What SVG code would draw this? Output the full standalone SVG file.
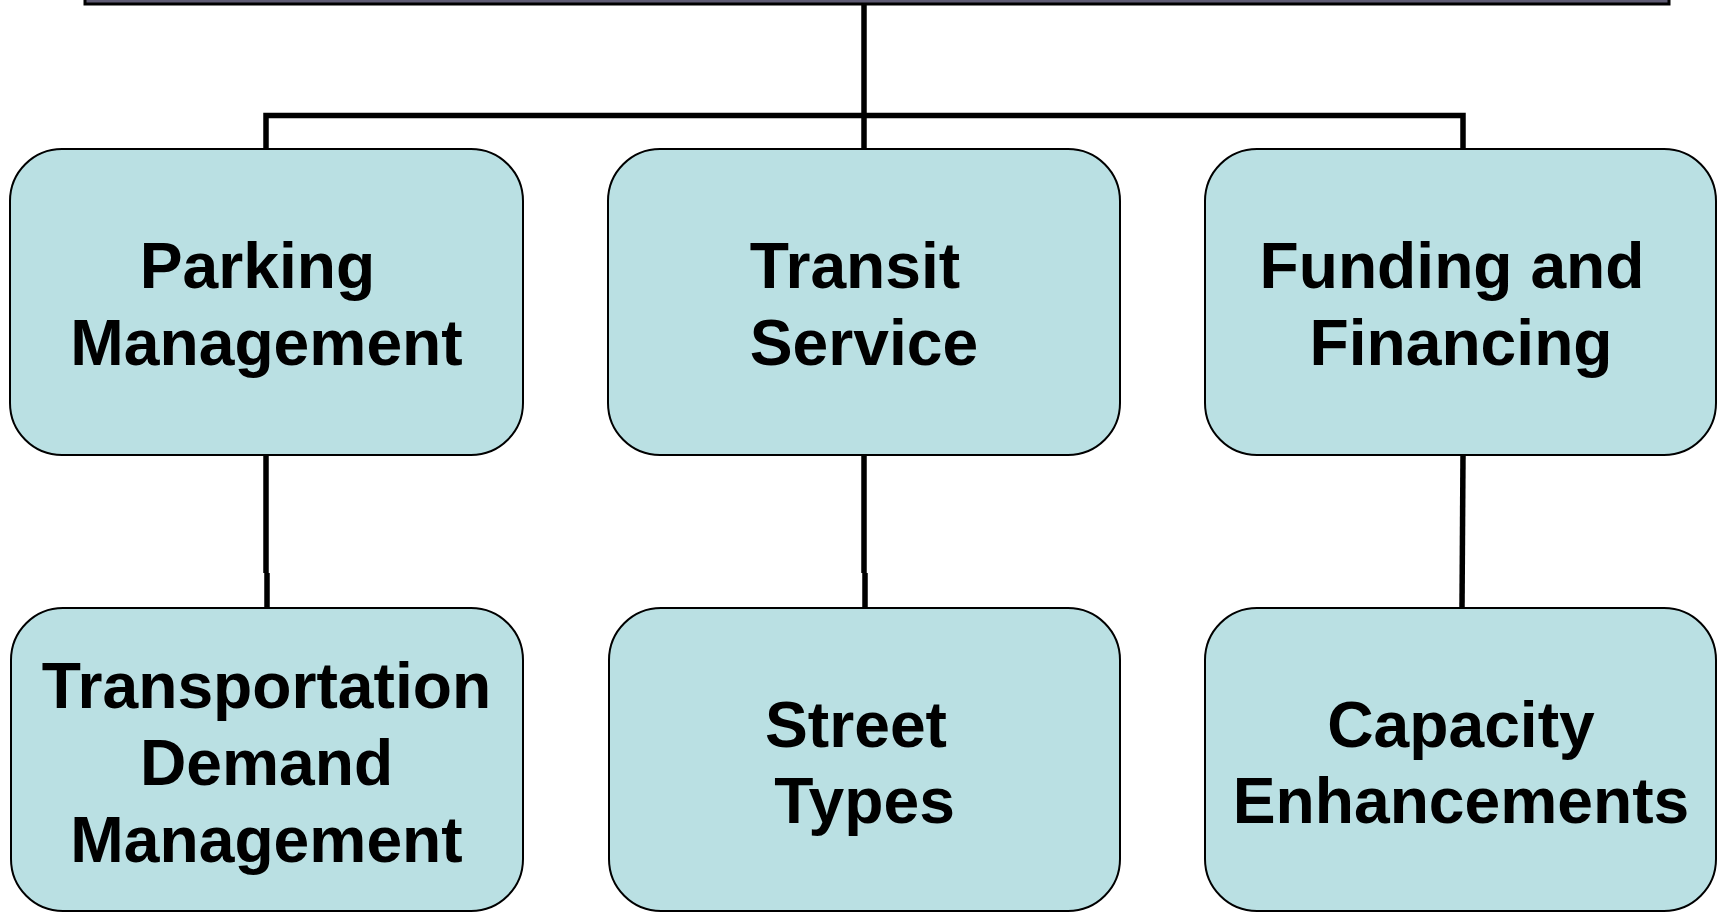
<svg xmlns="http://www.w3.org/2000/svg" width="1718" height="913" viewBox="0 0 1718 913">
<style>
.box{fill:#BAE0E3;stroke:#000;stroke-width:2}
.top{fill:#5E5B73;stroke:#000;stroke-width:3}
.lbl{font-family:"Liberation Sans",Arial,sans-serif;font-weight:bold;font-size:64.2px;fill:#000;text-anchor:middle}
.conn{fill:none;stroke:#000;stroke-width:5.5}
</style>
<rect width="1718" height="913" fill="#fff"/>
<g id="root"><rect class="top" x="85" y="-40" width="1584" height="44"/></g>
<g id="connectors">
<path class="conn" d="M864,4 V149"/>
<path class="conn" d="M266,149 V115.5 H1463 V149"/>
<path class="conn" d="M266,455 V573 M267,573 V608"/>
<path class="conn" d="M864,455 V573 M865,573 V608"/>
<path class="conn" d="M1463,455 L1462,608"/>
</g>
<g id="parking"><rect class="box" x="10" y="149" width="513" height="306" rx="52"/>
<text class="lbl"><tspan x="257.5" y="288">Parking</tspan><tspan x="266.5" y="365">Management</tspan></text></g>
<g id="transit"><rect class="box" x="608" y="149" width="512" height="306" rx="52"/>
<text class="lbl"><tspan x="855" y="288">Transit</tspan><tspan x="864" y="365">Service</tspan></text></g>
<g id="funding"><rect class="box" x="1205" y="149" width="511" height="306" rx="52"/>
<text class="lbl"><tspan x="1452" y="288">Funding and</tspan><tspan x="1461" y="365">Financing</tspan></text></g>
<g id="tdm"><rect class="box" x="11" y="608" width="512" height="303" rx="52"/>
<text class="lbl"><tspan x="266.5" y="708">Transportation</tspan><tspan x="266.5" y="785">Demand</tspan><tspan x="266.5" y="862">Management</tspan></text></g>
<g id="street"><rect class="box" x="609" y="608" width="511" height="303" rx="52"/>
<text class="lbl"><tspan x="856" y="747">Street</tspan><tspan x="864.5" y="823">Types</tspan></text></g>
<g id="capacity"><rect class="box" x="1205" y="608" width="511" height="303" rx="52"/>
<text class="lbl"><tspan x="1461" y="747">Capacity</tspan><tspan x="1461" y="823">Enhancements</tspan></text></g>
</svg>
